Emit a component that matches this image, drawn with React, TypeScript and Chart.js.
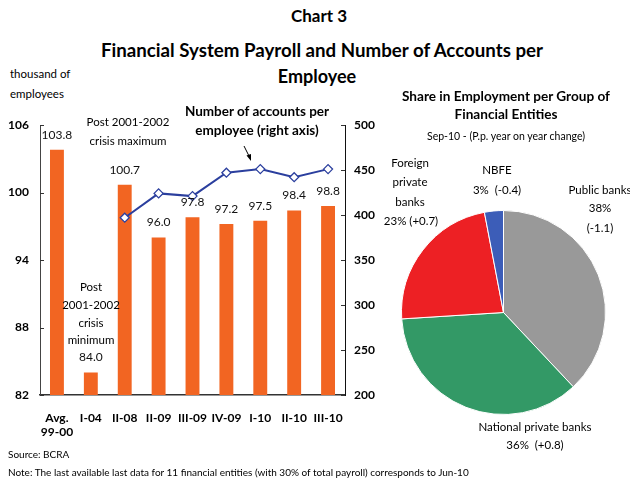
import React, { useEffect, useRef } from "react";
import { Chart, registerables } from "chart.js";
Chart.register(...registerables);

const categories: (string | string[])[] = [["Avg.", "99-00"], "I-04", "II-08", "II-09", "III-09", "IV-09", "I-10", "II-10", "III-10"];
const employees = [103.8, 84.0, 100.7, 96.0, 97.8, 97.2, 97.5, 98.4, 98.8];
const accountsPerEmployee = [null, null, 397, 424, 421, 447, 451, 442, 451];
const leftAxis = { min: 82, max: 106, step: 6 };
const rightAxis = { min: 200, max: 500, step: 50 };

const pieNames = ["Public banks", "National private banks", "Foreign private banks", "NBFE"];
const pieShares = [38, 36, 23, 3];
const pieChanges = ["-1.1", "+0.8", "+0.7", "-0.4"];
const pieColors = ["#999999", "#339966", "#ED2024", "#3C5DB8"];

const FONT = "Lato, 'DejaVu Sans', sans-serif";
const ORANGE = "#F26522";
const BLUE = "#2B3F9E";

const barPlugin = {
  id: "barExtras",
  afterDraw(chart: any) {
    const ctx = chart.ctx;
    const meta = chart.getDatasetMeta(0);
    ctx.save();
    ctx.font = `12px ${FONT}`;
    ctx.fillStyle = "#111";
    ctx.textAlign = "center";
    ctx.textBaseline = "middle";
    meta.data.forEach((el: any, i: number) => {
      ctx.fillText(employees[i].toFixed(1), el.x, el.y - 15);
    });
    // inward tick marks
    const y = chart.scales.y;
    const y1 = chart.scales.y1;
    ctx.strokeStyle = "#333";
    ctx.lineWidth = 1;
    y.ticks.forEach((t: any) => {
      const py = Math.round(y.getPixelForValue(t.value)) + 0.5;
      ctx.beginPath();
      ctx.moveTo(y.right, py);
      ctx.lineTo(y.right + 4, py);
      ctx.stroke();
    });
    y1.ticks.forEach((t: any) => {
      const py = Math.round(y1.getPixelForValue(t.value)) + 0.5;
      ctx.beginPath();
      ctx.moveTo(y1.left, py);
      ctx.lineTo(y1.left - 4, py);
      ctx.stroke();
    });
    ctx.restore();
  },
};

function BarLine() {
  const ref = useRef<HTMLCanvasElement>(null);
  useEffect(() => {
    const chart = new Chart(ref.current!, {
      type: "bar",
      data: {
        labels: categories,
        datasets: [
          {
            type: "bar",
            data: employees,
            backgroundColor: ORANGE,
            barPercentage: 0.41,
            categoryPercentage: 1,
            yAxisID: "y",
            order: 1,
          } as any,
          {
            type: "line",
            data: accountsPerEmployee,
            borderColor: BLUE,
            borderWidth: 2,
            pointStyle: "rectRot",
            pointRadius: 4.5,
            pointBackgroundColor: "#fff",
            pointBorderColor: BLUE,
            pointBorderWidth: 1.3,
            yAxisID: "y1",
            order: 0,
            spanGaps: false,
          } as any,
        ],
      },
      options: {
        animation: false,
        responsive: false,
        devicePixelRatio: 1,
        layout: { padding: { top: 25, left: 0, right: 0, bottom: 0 } },
        plugins: { legend: { display: false }, tooltip: { enabled: false } },
        scales: {
          x: {
            grid: { display: false },
            border: { display: true, color: "#333", width: 1.5 },
            ticks: {
              color: "#000",
              font: { family: FONT, size: 12, weight: "bold" },
              padding: 8,
              maxRotation: 0,
              autoSkip: false,
            },
            afterFit(s: any) { s.height = 45; },
          },
          y: {
            position: "left",
            min: leftAxis.min,
            max: leftAxis.max,
            grid: { display: false, drawTicks: false },
            border: { display: true, color: "#444", width: 1 },
            ticks: {
              stepSize: leftAxis.step,
              color: "#000",
              font: { family: FONT, size: 12, weight: "bold" },
              padding: 11,
            },
            afterFit(s: any) { s.width = 40; },
          },
          y1: {
            position: "right",
            min: rightAxis.min,
            max: rightAxis.max,
            grid: { display: false, drawTicks: false },
            border: { display: true, color: "#111", width: 1 },
            ticks: {
              stepSize: rightAxis.step,
              color: "#000",
              font: { family: FONT, size: 12, weight: "bold" },
              padding: 9,
            },
            afterFit(s: any) { s.width = 35; },
          },
        },
      } as any,
      plugins: [barPlugin],
    });
    return () => chart.destroy();
  }, []);
  return (
    <canvas ref={ref} width={380} height={340}
      style={{ position: "absolute", left: 0, top: 100, width: 380, height: 340 }} />
  );
}

function Pie() {
  const ref = useRef<HTMLCanvasElement>(null);
  useEffect(() => {
    const chart = new Chart(ref.current!, {
      type: "pie",
      data: {
        labels: pieNames,
        datasets: [{ data: pieShares, backgroundColor: pieColors, borderColor: "#fff", borderWidth: 1 }],
      },
      options: {
        animation: false,
        responsive: false,
        devicePixelRatio: 1,
        layout: { padding: 0 },
        plugins: { legend: { display: false }, tooltip: { enabled: false } },
      } as any,
    });
    return () => chart.destroy();
  }, []);
  return (
    <canvas ref={ref} width={205} height={205}
      style={{ position: "absolute", left: 401, top: 210, width: 205, height: 205 }} />
  );
}

function T({ x, y, children, size = 12, bold = false, align = "center" }: any) {
  return (
    <div style={{
      position: "absolute", left: x, top: y,
      transform: align === "center" ? "translate(-50%,-50%)" : "translate(0,-50%)",
      fontSize: size, fontWeight: bold ? 700 : 400, whiteSpace: "nowrap", lineHeight: 1, color: "#000",
    }}>{children}</div>
  );
}

export default function App() {
  return (
    <div style={{ position: "fixed", left: 0, top: 0, width: 630, height: 479, background: "#fff", fontFamily: FONT, overflow: "hidden" }}>
      <T x={319} y={15} size={17} bold>Chart 3</T>
      <T x={322} y={50} size={18.7} bold>Financial System Payroll and Number of Accounts per</T>
      <T x={317} y={76} size={18} bold>Employee</T>
      <T x={10} y={74} size={11.5} align="left">thousand of</T>
      <T x={10} y={94} size={11.5} align="left">employees</T>
      <BarLine />
      <T x={128} y={122} size={11.5}>Post 2001-2002</T>
      <T x={128} y={141} size={11.5}>crisis maximum</T>
      <T x={257} y={112} size={13.5} bold>Number of accounts per</T>
      <T x={257} y={131} size={13.5} bold>employee (right axis)</T>
      <svg style={{ position: "absolute", left: 0, top: 0 }} width={630} height={479}>
        <line x1={244} y1={146} x2={249.5} y2={157} stroke="#000" strokeWidth={1} />
        <polygon points="251,161 246.5,155.5 251,154" fill="#000" />
      </svg>
      <T x={91} y={287} size={11.5}>Post</T>
      <T x={91} y={305} size={11.5}>2001-2002</T>
      <T x={91} y={323} size={11.5}>crisis</T>
      <T x={91} y={340} size={11.5}>minimum</T>

      <T x={506} y={97} size={13.6} bold>Share in Employment per Group of</T>
      <T x={506} y={115} size={13.6} bold>Financial Entities</T>
      <T x={506} y={136} size={10.5}>Sep-10 - (P.p. year on year change)</T>
      <Pie />
      <T x={410} y={163} size={11.5}>Foreign</T>
      <T x={410} y={182} size={11.5}>private</T>
      <T x={410} y={202} size={11.5}>banks</T>
      <T x={411} y={221} size={11.5}>{`${pieShares[2]}% (${pieChanges[2]})`}</T>
      <T x={497} y={170} size={11.5}>NBFE</T>
      <T x={497} y={190} size={11.5}>{`${pieShares[3]}%\u00a0\u00a0(${pieChanges[3]})`}</T>
      <T x={600} y={190} size={11.5}>{pieNames[0]}</T>
      <T x={600} y={208} size={11.5}>{`${pieShares[0]}%`}</T>
      <T x={600} y={228} size={11.5}>{`(${pieChanges[0]})`}</T>
      <T x={535} y={427} size={11.5}>{pieNames[1]}</T>
      <T x={535} y={445} size={11.5}>{`${pieShares[1]}%\u00a0\u00a0(${pieChanges[1]})`}</T>

      <T x={8} y={454} size={10} align="left">Source: BCRA</T>
      <T x={8} y={472} size={10} align="left">Note: The last available last data for 11 financial entities (with 30% of total payroll) corresponds to Jun-10</T>
    </div>
  );
}
